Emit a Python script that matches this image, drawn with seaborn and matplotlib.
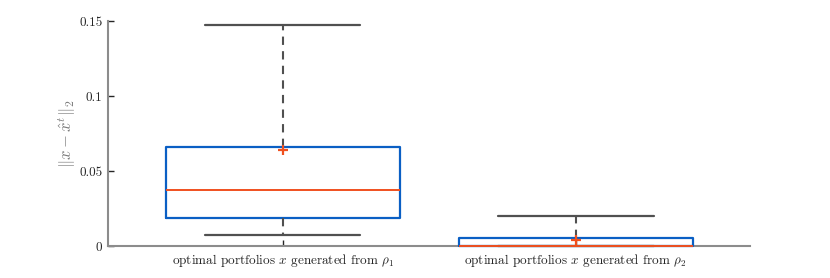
import numpy as np
import pandas as pd
import matplotlib
matplotlib.use("Agg")
import matplotlib.pyplot as plt
import matplotlib.colors as mcolors
import seaborn as sns

# ── DATA ───────────────────────────────────────────────────
groups = ["optimal portfolios $x$ generated from $\\rho_1$",
          "optimal portfolios $x$ generated from $\\rho_2$"]
# five-number summaries: lower whisker, q1, median, q3, upper whisker
summary_1 = [0.0073, 0.0187, 0.0373, 0.0660, 0.1473]
summary_2 = [0.0, 0.0, 0.0, 0.0053, 0.0200]
marks = [0.0643, 0.0040]          # red "+" markers
ytick_vals = [0, 0.05, 0.1, 0.15]
ytick_labels = ["0", "0.05", "0.1", "0.15"]

df = pd.DataFrame({
    "group": [groups[0]] * len(summary_1) + [groups[1]] * len(summary_2),
    "value": summary_1 + summary_2,
})
marks_df = pd.DataFrame({"group": groups, "value": marks})

# ── STYLE ─────────────────────────────────────────────────
sns.set_style("ticks")
plt.rcParams["font.family"] = "serif"
plt.rcParams["font.serif"] = ["cmr10", "DejaVu Serif"]
plt.rcParams["mathtext.fontset"] = "cm"
plt.rcParams["axes.unicode_minus"] = False

blue = "#0a5fc4"
red = "#f0501e"
dark = "#505050"

fig = plt.figure(figsize=(8.3, 2.78), dpi=100)
ax = fig.add_axes([0.130, 0.115, 0.7735, 0.8094])

sns.boxplot(data=df, x="group", y="value", ax=ax, whis=(0, 100), width=0.8,
            fill=False, color=blue, showfliers=False, capwidths=0.53,
            boxprops=dict(color=blue, linewidth=1.6, clip_on=False),
            medianprops=dict(color=red, linewidth=1.4, clip_on=False),
            whiskerprops=dict(color=dark, linewidth=1.5, linestyle=(0, (4, 3))),
            capprops=dict(color=dark, linewidth=1.6, clip_on=False))

# caps and whiskers sit above the median line, as in the reference
for ln in ax.lines:
    c = mcolors.to_hex(ln.get_color())
    if c == dark:
        ln.set_zorder(6)
    elif c == red:
        ln.set_zorder(5)
    else:
        ln.set_zorder(4)
for p in ax.patches:
    p.set_zorder(4)
    p.set_clip_on(False)

sns.pointplot(data=marks_df, x="group", y="value", ax=ax, color=red,
              markers="+", linestyles="none", errorbar=None,
              markersize=7, markeredgewidth=1.6)
for coll in ax.collections + ax.lines[-2:]:
    coll.set_zorder(7)
    coll.set_clip_on(False)

# ── AXES ──────────────────────────────────────────────────
ax.set_xlim(-0.597, 1.594)
ax.set_ylim(0, 0.15)
ax.set_yticks(ytick_vals, ytick_labels)
ax.set_xlabel("")
ax.set_ylabel("$\\|x-\\hat{x}^t\\|_2$", color="#7a7a7a", fontsize=12, labelpad=1)
ax.tick_params(direction="in", length=4, width=1, colors="#262626",
               labelsize=9.5, pad=4)
for s in ["top", "right"]:
    ax.spines[s].set_visible(False)
for s in ["left", "bottom"]:
    ax.spines[s].set_color("#8c8c8c")
    ax.spines[s].set_linewidth(1.5)
    ax.spines[s].set_zorder(2)

fig.savefig("out.png", dpi=100)
